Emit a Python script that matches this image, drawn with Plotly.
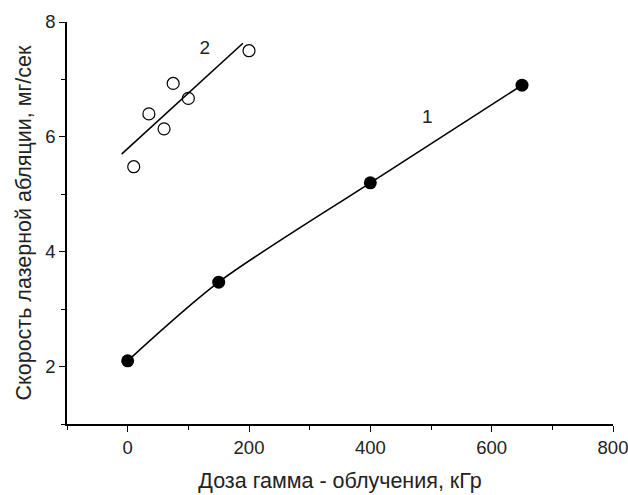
import plotly.graph_objects as go

# Series 1 (filled circles)
dose1 = [0, 150, 400, 650]
rate1 = [2.10, 3.47, 5.20, 6.90]

# Series 2 (open circles)
dose2 = [10, 35, 60, 75, 100, 200]
rate2 = [5.48, 6.40, 6.14, 6.93, 6.67, 7.50]

# Linear fit line for series 2 (endpoints)
fit2_x = [-10, 190]
fit2_y = [5.70, 7.63]

# Curve labels
label_text = ["1", "2"]
label_x = [494, 127]
label_y = [6.33, 7.53]

x_ticks = [0, 200, 400, 600, 800]
y_ticks = [2, 4, 6, 8]

FONT = "Liberation Sans, Arial, sans-serif"

fig = go.Figure()
fig.add_trace(go.Scatter(x=dose1, y=rate1, mode="lines+markers",
                         line=dict(color="black", width=1.6, shape="spline", smoothing=0.8),
                         marker=dict(symbol="circle", size=13, color="black"),
                         showlegend=False))
fig.add_trace(go.Scatter(x=fit2_x, y=fit2_y, mode="lines",
                         line=dict(color="black", width=1.6), showlegend=False))
fig.add_trace(go.Scatter(x=dose2, y=rate2, mode="markers",
                         marker=dict(symbol="circle-open", size=12, color="black",
                                     line=dict(width=1.2, color="black")),
                         showlegend=False))
fig.add_trace(go.Scatter(x=label_x, y=label_y, mode="text", text=label_text,
                         textfont=dict(family=FONT, size=19, color="#222"),
                         showlegend=False))

fig.update_layout(
    width=628, height=495,
    margin=dict(l=67, r=15, t=22, b=71),
    paper_bgcolor="white", plot_bgcolor="white",
    font=dict(family=FONT, color="#222"),
    xaxis=dict(range=[-100, 800], tickvals=x_ticks, ticks="outside", ticklen=6, tickwidth=1.3,
               tickcolor="black", automargin=False, ticklabeloverflow="allow",
               showline=True, linecolor="black", linewidth=1.5, showgrid=False, zeroline=False,
               tickfont=dict(size=18.5), title=dict(text="Доза гамма - облучения, кГр",
                                                    font=dict(size=21.5), standoff=16),
               minor=dict(ticks="outside", ticklen=4, tickwidth=1.2, dtick=100, tick0=0,
                          tickcolor="black", showgrid=False)),
    yaxis=dict(range=[1, 8], tickvals=y_ticks, ticks="outside", ticklen=6, tickwidth=1.3,
               tickcolor="black", automargin=False, ticklabeloverflow="allow",
               showline=True, linecolor="black", linewidth=1.5, showgrid=False, zeroline=False,
               tickfont=dict(size=18.5), title=dict(text="Скорость лазерной абляции, мг/сек",
                                                    font=dict(size=21.5), standoff=8),
               minor=dict(ticks="outside", ticklen=4, tickwidth=1.2, dtick=1, tick0=0,
                          tickcolor="black", showgrid=False)),
)

fig.write_html("out.html", config={"displayModeBar": False},
               post_script="document.body.style.margin='0';")
